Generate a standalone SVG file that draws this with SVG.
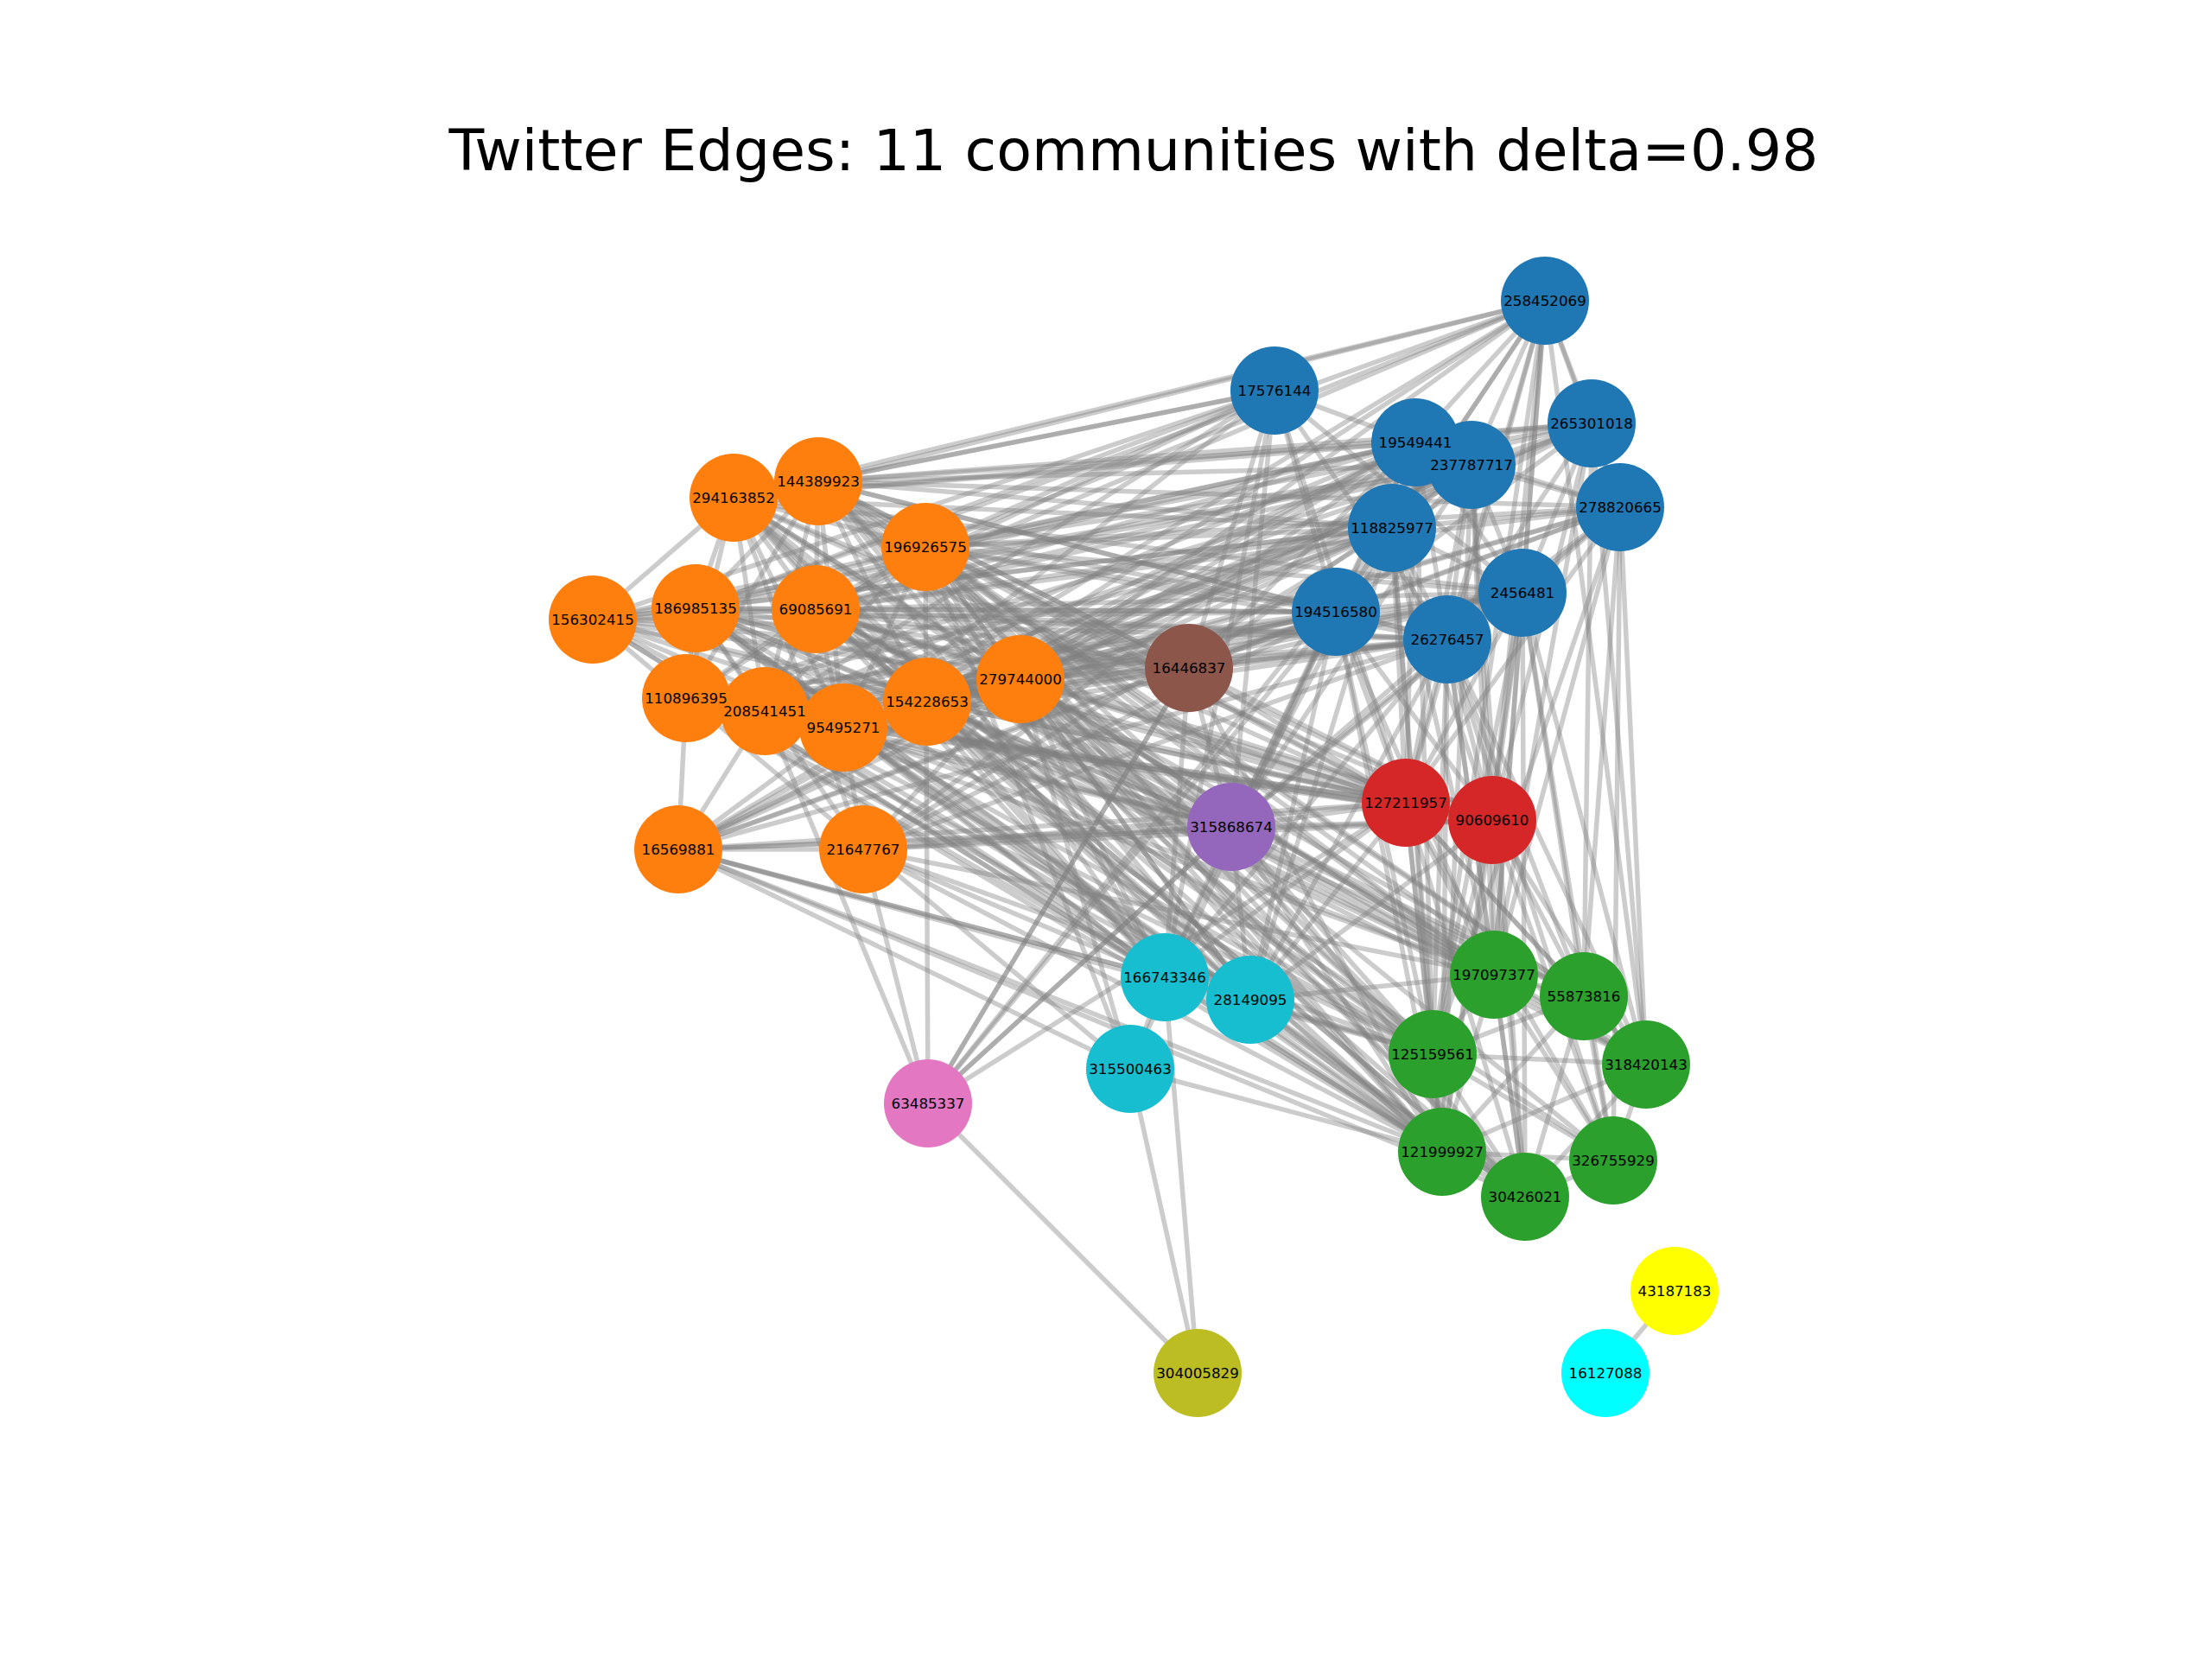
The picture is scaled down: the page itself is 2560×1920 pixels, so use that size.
<svg xmlns="http://www.w3.org/2000/svg" width="2560" height="1920" viewBox="0 0 2560 1920">
<style>
.e line{stroke:#808080;stroke-opacity:0.4;stroke-width:5.5;stroke-linecap:butt}
.n circle{stroke:none}
.lbl text{font-family:"DejaVu Sans","Liberation Sans",sans-serif;font-size:16.7px;text-anchor:middle;fill:#000}
.B{fill:#1f77b4}.O{fill:#ff7f0e}.G{fill:#2ca02c}.R{fill:#d62728}.P{fill:#9467bd}.Br{fill:#8c564b}.Pk{fill:#e377c2}.Ol{fill:#bcbd22}.C{fill:#17becf}.Y{fill:#ffff00}.A{fill:#00ffff}
</style>
<rect width="2560" height="1920" fill="#ffffff"/>
<text x="1312" y="197" font-family="DejaVu Sans, Liberation Sans, sans-serif" font-size="66.7" text-anchor="middle" fill="#000">Twitter Edges: 11 communities with delta=0.98</text>
<g id="edges" class="e">
<line x1="1788" y1="348" x2="1842" y2="490"/>
<line x1="1788" y1="348" x2="1638" y2="512"/>
<line x1="1788" y1="348" x2="1703" y2="538"/>
<line x1="1788" y1="348" x2="1875" y2="587"/>
<line x1="1788" y1="348" x2="1611" y2="611"/>
<line x1="1788" y1="348" x2="1762" y2="686"/>
<line x1="1788" y1="348" x2="1546" y2="708"/>
<line x1="1788" y1="348" x2="1675" y2="740"/>
<line x1="1475" y1="452" x2="1638" y2="512"/>
<line x1="1475" y1="452" x2="1762" y2="686"/>
<line x1="1475" y1="452" x2="1675" y2="740"/>
<line x1="1475" y1="452" x2="1546" y2="708"/>
<line x1="1842" y1="490" x2="1638" y2="512"/>
<line x1="1842" y1="490" x2="1703" y2="538"/>
<line x1="1842" y1="490" x2="1875" y2="587"/>
<line x1="1842" y1="490" x2="1611" y2="611"/>
<line x1="1842" y1="490" x2="1762" y2="686"/>
<line x1="1842" y1="490" x2="1546" y2="708"/>
<line x1="1842" y1="490" x2="1675" y2="740"/>
<line x1="1638" y1="512" x2="1703" y2="538"/>
<line x1="1638" y1="512" x2="1875" y2="587"/>
<line x1="1638" y1="512" x2="1611" y2="611"/>
<line x1="1638" y1="512" x2="1762" y2="686"/>
<line x1="1638" y1="512" x2="1546" y2="708"/>
<line x1="1638" y1="512" x2="1675" y2="740"/>
<line x1="1703" y1="538" x2="1875" y2="587"/>
<line x1="1703" y1="538" x2="1611" y2="611"/>
<line x1="1703" y1="538" x2="1762" y2="686"/>
<line x1="1703" y1="538" x2="1546" y2="708"/>
<line x1="1703" y1="538" x2="1675" y2="740"/>
<line x1="1875" y1="587" x2="1611" y2="611"/>
<line x1="1875" y1="587" x2="1762" y2="686"/>
<line x1="1875" y1="587" x2="1546" y2="708"/>
<line x1="1875" y1="587" x2="1675" y2="740"/>
<line x1="1611" y1="611" x2="1762" y2="686"/>
<line x1="1611" y1="611" x2="1546" y2="708"/>
<line x1="1611" y1="611" x2="1675" y2="740"/>
<line x1="1762" y1="686" x2="1546" y2="708"/>
<line x1="1762" y1="686" x2="1675" y2="740"/>
<line x1="1546" y1="708" x2="1675" y2="740"/>
<line x1="1788" y1="348" x2="947" y2="557"/>
<line x1="1788" y1="348" x2="849" y2="576"/>
<line x1="1788" y1="348" x2="1071" y2="633"/>
<line x1="1788" y1="348" x2="805" y2="704"/>
<line x1="1788" y1="348" x2="944" y2="705"/>
<line x1="1788" y1="348" x2="976" y2="842"/>
<line x1="1788" y1="348" x2="1073" y2="812"/>
<line x1="1788" y1="348" x2="1181" y2="786"/>
<line x1="1788" y1="348" x2="1729" y2="1128"/>
<line x1="1788" y1="348" x2="1658" y2="1220"/>
<line x1="1788" y1="348" x2="1627" y2="929"/>
<line x1="1788" y1="348" x2="1727" y2="949"/>
<line x1="1788" y1="348" x2="1905" y2="1232"/>
<line x1="1475" y1="452" x2="947" y2="557"/>
<line x1="1475" y1="452" x2="849" y2="576"/>
<line x1="1475" y1="452" x2="1071" y2="633"/>
<line x1="1475" y1="452" x2="686" y2="717"/>
<line x1="1475" y1="452" x2="805" y2="704"/>
<line x1="1475" y1="452" x2="944" y2="705"/>
<line x1="1475" y1="452" x2="885" y2="823"/>
<line x1="1475" y1="452" x2="976" y2="842"/>
<line x1="1475" y1="452" x2="1425" y2="957"/>
<line x1="1475" y1="452" x2="1376" y2="773"/>
<line x1="1475" y1="452" x2="1627" y2="929"/>
<line x1="1475" y1="452" x2="1348" y2="1131"/>
<line x1="1842" y1="490" x2="947" y2="557"/>
<line x1="1842" y1="490" x2="849" y2="576"/>
<line x1="1842" y1="490" x2="1071" y2="633"/>
<line x1="1842" y1="490" x2="944" y2="705"/>
<line x1="1842" y1="490" x2="1181" y2="786"/>
<line x1="1842" y1="490" x2="1729" y2="1128"/>
<line x1="1842" y1="490" x2="1833" y2="1153"/>
<line x1="1842" y1="490" x2="1905" y2="1232"/>
<line x1="1842" y1="490" x2="1727" y2="949"/>
<line x1="1842" y1="490" x2="976" y2="842"/>
<line x1="1842" y1="490" x2="1073" y2="812"/>
<line x1="1638" y1="512" x2="947" y2="557"/>
<line x1="1638" y1="512" x2="849" y2="576"/>
<line x1="1638" y1="512" x2="1071" y2="633"/>
<line x1="1638" y1="512" x2="686" y2="717"/>
<line x1="1638" y1="512" x2="805" y2="704"/>
<line x1="1638" y1="512" x2="944" y2="705"/>
<line x1="1638" y1="512" x2="885" y2="823"/>
<line x1="1638" y1="512" x2="976" y2="842"/>
<line x1="1638" y1="512" x2="1073" y2="812"/>
<line x1="1638" y1="512" x2="1181" y2="786"/>
<line x1="1638" y1="512" x2="1376" y2="773"/>
<line x1="1638" y1="512" x2="1425" y2="957"/>
<line x1="1638" y1="512" x2="1627" y2="929"/>
<line x1="1638" y1="512" x2="1658" y2="1220"/>
<line x1="1638" y1="512" x2="785" y2="983"/>
<line x1="1638" y1="512" x2="999" y2="983"/>
<line x1="1703" y1="538" x2="947" y2="557"/>
<line x1="1703" y1="538" x2="1071" y2="633"/>
<line x1="1703" y1="538" x2="805" y2="704"/>
<line x1="1703" y1="538" x2="944" y2="705"/>
<line x1="1703" y1="538" x2="794" y2="808"/>
<line x1="1703" y1="538" x2="1073" y2="812"/>
<line x1="1703" y1="538" x2="1181" y2="786"/>
<line x1="1703" y1="538" x2="1376" y2="773"/>
<line x1="1703" y1="538" x2="1627" y2="929"/>
<line x1="1703" y1="538" x2="1727" y2="949"/>
<line x1="1703" y1="538" x2="1729" y2="1128"/>
<line x1="1703" y1="538" x2="1669" y2="1333"/>
<line x1="1703" y1="538" x2="1765" y2="1385"/>
<line x1="1703" y1="538" x2="1425" y2="957"/>
<line x1="1703" y1="538" x2="885" y2="823"/>
<line x1="1703" y1="538" x2="976" y2="842"/>
<line x1="1703" y1="538" x2="686" y2="717"/>
<line x1="1703" y1="538" x2="785" y2="983"/>
<line x1="1875" y1="587" x2="947" y2="557"/>
<line x1="1875" y1="587" x2="1071" y2="633"/>
<line x1="1875" y1="587" x2="944" y2="705"/>
<line x1="1875" y1="587" x2="1181" y2="786"/>
<line x1="1875" y1="587" x2="1376" y2="773"/>
<line x1="1875" y1="587" x2="1729" y2="1128"/>
<line x1="1875" y1="587" x2="1833" y2="1153"/>
<line x1="1875" y1="587" x2="1658" y2="1220"/>
<line x1="1875" y1="587" x2="1905" y2="1232"/>
<line x1="1875" y1="587" x2="1867" y2="1343"/>
<line x1="1875" y1="587" x2="1627" y2="929"/>
<line x1="1875" y1="587" x2="1425" y2="957"/>
<line x1="1875" y1="587" x2="1073" y2="812"/>
<line x1="1611" y1="611" x2="947" y2="557"/>
<line x1="1611" y1="611" x2="849" y2="576"/>
<line x1="1611" y1="611" x2="1071" y2="633"/>
<line x1="1611" y1="611" x2="686" y2="717"/>
<line x1="1611" y1="611" x2="805" y2="704"/>
<line x1="1611" y1="611" x2="944" y2="705"/>
<line x1="1611" y1="611" x2="794" y2="808"/>
<line x1="1611" y1="611" x2="885" y2="823"/>
<line x1="1611" y1="611" x2="976" y2="842"/>
<line x1="1611" y1="611" x2="1073" y2="812"/>
<line x1="1611" y1="611" x2="1181" y2="786"/>
<line x1="1611" y1="611" x2="785" y2="983"/>
<line x1="1611" y1="611" x2="999" y2="983"/>
<line x1="1611" y1="611" x2="1627" y2="929"/>
<line x1="1611" y1="611" x2="1727" y2="949"/>
<line x1="1611" y1="611" x2="1425" y2="957"/>
<line x1="1611" y1="611" x2="1729" y2="1128"/>
<line x1="1611" y1="611" x2="1658" y2="1220"/>
<line x1="1611" y1="611" x2="1669" y2="1333"/>
<line x1="1611" y1="611" x2="1447" y2="1157"/>
<line x1="1762" y1="686" x2="849" y2="576"/>
<line x1="1762" y1="686" x2="1071" y2="633"/>
<line x1="1762" y1="686" x2="944" y2="705"/>
<line x1="1762" y1="686" x2="1073" y2="812"/>
<line x1="1762" y1="686" x2="1376" y2="773"/>
<line x1="1762" y1="686" x2="1627" y2="929"/>
<line x1="1762" y1="686" x2="1727" y2="949"/>
<line x1="1762" y1="686" x2="1729" y2="1128"/>
<line x1="1762" y1="686" x2="1833" y2="1153"/>
<line x1="1762" y1="686" x2="1658" y2="1220"/>
<line x1="1762" y1="686" x2="1905" y2="1232"/>
<line x1="1762" y1="686" x2="1669" y2="1333"/>
<line x1="1762" y1="686" x2="1765" y2="1385"/>
<line x1="1762" y1="686" x2="1867" y2="1343"/>
<line x1="1762" y1="686" x2="1425" y2="957"/>
<line x1="1762" y1="686" x2="794" y2="808"/>
<line x1="1762" y1="686" x2="885" y2="823"/>
<line x1="1762" y1="686" x2="976" y2="842"/>
<line x1="1762" y1="686" x2="1181" y2="786"/>
<line x1="1546" y1="708" x2="947" y2="557"/>
<line x1="1546" y1="708" x2="849" y2="576"/>
<line x1="1546" y1="708" x2="1071" y2="633"/>
<line x1="1546" y1="708" x2="686" y2="717"/>
<line x1="1546" y1="708" x2="805" y2="704"/>
<line x1="1546" y1="708" x2="944" y2="705"/>
<line x1="1546" y1="708" x2="794" y2="808"/>
<line x1="1546" y1="708" x2="885" y2="823"/>
<line x1="1546" y1="708" x2="976" y2="842"/>
<line x1="1546" y1="708" x2="1073" y2="812"/>
<line x1="1546" y1="708" x2="1181" y2="786"/>
<line x1="1546" y1="708" x2="785" y2="983"/>
<line x1="1546" y1="708" x2="999" y2="983"/>
<line x1="1546" y1="708" x2="1376" y2="773"/>
<line x1="1546" y1="708" x2="1425" y2="957"/>
<line x1="1546" y1="708" x2="1627" y2="929"/>
<line x1="1546" y1="708" x2="1727" y2="949"/>
<line x1="1546" y1="708" x2="1729" y2="1128"/>
<line x1="1546" y1="708" x2="1658" y2="1220"/>
<line x1="1546" y1="708" x2="1669" y2="1333"/>
<line x1="1546" y1="708" x2="1348" y2="1131"/>
<line x1="1546" y1="708" x2="1447" y2="1157"/>
<line x1="1546" y1="708" x2="1308" y2="1237"/>
<line x1="1546" y1="708" x2="1074" y2="1277"/>
<line x1="1675" y1="740" x2="947" y2="557"/>
<line x1="1675" y1="740" x2="1071" y2="633"/>
<line x1="1675" y1="740" x2="805" y2="704"/>
<line x1="1675" y1="740" x2="944" y2="705"/>
<line x1="1675" y1="740" x2="885" y2="823"/>
<line x1="1675" y1="740" x2="976" y2="842"/>
<line x1="1675" y1="740" x2="1073" y2="812"/>
<line x1="1675" y1="740" x2="1181" y2="786"/>
<line x1="1675" y1="740" x2="785" y2="983"/>
<line x1="1675" y1="740" x2="999" y2="983"/>
<line x1="1675" y1="740" x2="794" y2="808"/>
<line x1="1675" y1="740" x2="686" y2="717"/>
<line x1="1675" y1="740" x2="1376" y2="773"/>
<line x1="1675" y1="740" x2="1627" y2="929"/>
<line x1="1675" y1="740" x2="1727" y2="949"/>
<line x1="1675" y1="740" x2="1729" y2="1128"/>
<line x1="1675" y1="740" x2="1833" y2="1153"/>
<line x1="1675" y1="740" x2="1658" y2="1220"/>
<line x1="1675" y1="740" x2="1905" y2="1232"/>
<line x1="1675" y1="740" x2="1669" y2="1333"/>
<line x1="1675" y1="740" x2="1765" y2="1385"/>
<line x1="1675" y1="740" x2="1867" y2="1343"/>
<line x1="1675" y1="740" x2="1425" y2="957"/>
<line x1="1675" y1="740" x2="1348" y2="1131"/>
<line x1="1675" y1="740" x2="1447" y2="1157"/>
<line x1="1376" y1="773" x2="947" y2="557"/>
<line x1="1376" y1="773" x2="1071" y2="633"/>
<line x1="1376" y1="773" x2="805" y2="704"/>
<line x1="1376" y1="773" x2="944" y2="705"/>
<line x1="1376" y1="773" x2="976" y2="842"/>
<line x1="1376" y1="773" x2="1073" y2="812"/>
<line x1="1376" y1="773" x2="1181" y2="786"/>
<line x1="1376" y1="773" x2="785" y2="983"/>
<line x1="1376" y1="773" x2="1425" y2="957"/>
<line x1="1376" y1="773" x2="1627" y2="929"/>
<line x1="1376" y1="773" x2="1669" y2="1333"/>
<line x1="1376" y1="773" x2="1348" y2="1131"/>
<line x1="1376" y1="773" x2="1074" y2="1277"/>
<line x1="1425" y1="957" x2="947" y2="557"/>
<line x1="1425" y1="957" x2="849" y2="576"/>
<line x1="1425" y1="957" x2="1071" y2="633"/>
<line x1="1425" y1="957" x2="805" y2="704"/>
<line x1="1425" y1="957" x2="944" y2="705"/>
<line x1="1425" y1="957" x2="794" y2="808"/>
<line x1="1425" y1="957" x2="885" y2="823"/>
<line x1="1425" y1="957" x2="976" y2="842"/>
<line x1="1425" y1="957" x2="1073" y2="812"/>
<line x1="1425" y1="957" x2="1181" y2="786"/>
<line x1="1425" y1="957" x2="785" y2="983"/>
<line x1="1425" y1="957" x2="999" y2="983"/>
<line x1="1425" y1="957" x2="1627" y2="929"/>
<line x1="1425" y1="957" x2="1727" y2="949"/>
<line x1="1425" y1="957" x2="1729" y2="1128"/>
<line x1="1425" y1="957" x2="1833" y2="1153"/>
<line x1="1425" y1="957" x2="1658" y2="1220"/>
<line x1="1425" y1="957" x2="1669" y2="1333"/>
<line x1="1425" y1="957" x2="1765" y2="1385"/>
<line x1="1425" y1="957" x2="1348" y2="1131"/>
<line x1="1425" y1="957" x2="1447" y2="1157"/>
<line x1="1425" y1="957" x2="1074" y2="1277"/>
<line x1="1627" y1="929" x2="1727" y2="949"/>
<line x1="1627" y1="929" x2="947" y2="557"/>
<line x1="1627" y1="929" x2="849" y2="576"/>
<line x1="1627" y1="929" x2="1071" y2="633"/>
<line x1="1627" y1="929" x2="805" y2="704"/>
<line x1="1627" y1="929" x2="944" y2="705"/>
<line x1="1627" y1="929" x2="885" y2="823"/>
<line x1="1627" y1="929" x2="976" y2="842"/>
<line x1="1627" y1="929" x2="1073" y2="812"/>
<line x1="1627" y1="929" x2="1181" y2="786"/>
<line x1="1627" y1="929" x2="785" y2="983"/>
<line x1="1627" y1="929" x2="999" y2="983"/>
<line x1="1627" y1="929" x2="794" y2="808"/>
<line x1="1627" y1="929" x2="1729" y2="1128"/>
<line x1="1627" y1="929" x2="1833" y2="1153"/>
<line x1="1627" y1="929" x2="1658" y2="1220"/>
<line x1="1627" y1="929" x2="1905" y2="1232"/>
<line x1="1627" y1="929" x2="1669" y2="1333"/>
<line x1="1627" y1="929" x2="1765" y2="1385"/>
<line x1="1627" y1="929" x2="1867" y2="1343"/>
<line x1="1627" y1="929" x2="1348" y2="1131"/>
<line x1="1627" y1="929" x2="1447" y2="1157"/>
<line x1="1627" y1="929" x2="1074" y2="1277"/>
<line x1="1727" y1="949" x2="947" y2="557"/>
<line x1="1727" y1="949" x2="849" y2="576"/>
<line x1="1727" y1="949" x2="1071" y2="633"/>
<line x1="1727" y1="949" x2="805" y2="704"/>
<line x1="1727" y1="949" x2="944" y2="705"/>
<line x1="1727" y1="949" x2="976" y2="842"/>
<line x1="1727" y1="949" x2="1073" y2="812"/>
<line x1="1727" y1="949" x2="1181" y2="786"/>
<line x1="1727" y1="949" x2="785" y2="983"/>
<line x1="1727" y1="949" x2="999" y2="983"/>
<line x1="1727" y1="949" x2="794" y2="808"/>
<line x1="1727" y1="949" x2="885" y2="823"/>
<line x1="1727" y1="949" x2="1729" y2="1128"/>
<line x1="1727" y1="949" x2="1833" y2="1153"/>
<line x1="1727" y1="949" x2="1658" y2="1220"/>
<line x1="1727" y1="949" x2="1905" y2="1232"/>
<line x1="1727" y1="949" x2="1669" y2="1333"/>
<line x1="1727" y1="949" x2="1765" y2="1385"/>
<line x1="1727" y1="949" x2="1867" y2="1343"/>
<line x1="1727" y1="949" x2="1447" y2="1157"/>
<line x1="1729" y1="1128" x2="1833" y2="1153"/>
<line x1="1729" y1="1128" x2="1658" y2="1220"/>
<line x1="1729" y1="1128" x2="1905" y2="1232"/>
<line x1="1729" y1="1128" x2="1669" y2="1333"/>
<line x1="1729" y1="1128" x2="1765" y2="1385"/>
<line x1="1729" y1="1128" x2="1867" y2="1343"/>
<line x1="1833" y1="1153" x2="1658" y2="1220"/>
<line x1="1833" y1="1153" x2="1905" y2="1232"/>
<line x1="1833" y1="1153" x2="1669" y2="1333"/>
<line x1="1833" y1="1153" x2="1765" y2="1385"/>
<line x1="1833" y1="1153" x2="1867" y2="1343"/>
<line x1="1658" y1="1220" x2="1905" y2="1232"/>
<line x1="1658" y1="1220" x2="1669" y2="1333"/>
<line x1="1658" y1="1220" x2="1765" y2="1385"/>
<line x1="1658" y1="1220" x2="1867" y2="1343"/>
<line x1="1905" y1="1232" x2="1669" y2="1333"/>
<line x1="1905" y1="1232" x2="1765" y2="1385"/>
<line x1="1905" y1="1232" x2="1867" y2="1343"/>
<line x1="1669" y1="1333" x2="1765" y2="1385"/>
<line x1="1669" y1="1333" x2="1867" y2="1343"/>
<line x1="1765" y1="1385" x2="1867" y2="1343"/>
<line x1="1669" y1="1333" x2="947" y2="557"/>
<line x1="1669" y1="1333" x2="849" y2="576"/>
<line x1="1669" y1="1333" x2="1071" y2="633"/>
<line x1="1669" y1="1333" x2="805" y2="704"/>
<line x1="1669" y1="1333" x2="944" y2="705"/>
<line x1="1669" y1="1333" x2="794" y2="808"/>
<line x1="1669" y1="1333" x2="885" y2="823"/>
<line x1="1669" y1="1333" x2="976" y2="842"/>
<line x1="1669" y1="1333" x2="1073" y2="812"/>
<line x1="1669" y1="1333" x2="1181" y2="786"/>
<line x1="1669" y1="1333" x2="785" y2="983"/>
<line x1="1669" y1="1333" x2="999" y2="983"/>
<line x1="1669" y1="1333" x2="686" y2="717"/>
<line x1="1669" y1="1333" x2="1348" y2="1131"/>
<line x1="1669" y1="1333" x2="1447" y2="1157"/>
<line x1="1669" y1="1333" x2="1308" y2="1237"/>
<line x1="1658" y1="1220" x2="1071" y2="633"/>
<line x1="1658" y1="1220" x2="944" y2="705"/>
<line x1="1658" y1="1220" x2="976" y2="842"/>
<line x1="1658" y1="1220" x2="1073" y2="812"/>
<line x1="1658" y1="1220" x2="1181" y2="786"/>
<line x1="1658" y1="1220" x2="785" y2="983"/>
<line x1="1658" y1="1220" x2="999" y2="983"/>
<line x1="1658" y1="1220" x2="947" y2="557"/>
<line x1="1658" y1="1220" x2="849" y2="576"/>
<line x1="1658" y1="1220" x2="805" y2="704"/>
<line x1="1658" y1="1220" x2="794" y2="808"/>
<line x1="1658" y1="1220" x2="885" y2="823"/>
<line x1="1658" y1="1220" x2="1348" y2="1131"/>
<line x1="1658" y1="1220" x2="1447" y2="1157"/>
<line x1="1729" y1="1128" x2="1071" y2="633"/>
<line x1="1729" y1="1128" x2="944" y2="705"/>
<line x1="1729" y1="1128" x2="1073" y2="812"/>
<line x1="1729" y1="1128" x2="1181" y2="786"/>
<line x1="1729" y1="1128" x2="947" y2="557"/>
<line x1="1729" y1="1128" x2="849" y2="576"/>
<line x1="1729" y1="1128" x2="805" y2="704"/>
<line x1="1729" y1="1128" x2="885" y2="823"/>
<line x1="1729" y1="1128" x2="976" y2="842"/>
<line x1="1729" y1="1128" x2="999" y2="983"/>
<line x1="1729" y1="1128" x2="1447" y2="1157"/>
<line x1="1765" y1="1385" x2="976" y2="842"/>
<line x1="1765" y1="1385" x2="1073" y2="812"/>
<line x1="1765" y1="1385" x2="1447" y2="1157"/>
<line x1="1765" y1="1385" x2="947" y2="557"/>
<line x1="1765" y1="1385" x2="849" y2="576"/>
<line x1="1765" y1="1385" x2="805" y2="704"/>
<line x1="1765" y1="1385" x2="944" y2="705"/>
<line x1="1765" y1="1385" x2="1071" y2="633"/>
<line x1="1765" y1="1385" x2="1181" y2="786"/>
<line x1="1765" y1="1385" x2="785" y2="983"/>
<line x1="1833" y1="1153" x2="947" y2="557"/>
<line x1="1833" y1="1153" x2="944" y2="705"/>
<line x1="1833" y1="1153" x2="1073" y2="812"/>
<line x1="1833" y1="1153" x2="1181" y2="786"/>
<line x1="1833" y1="1153" x2="1071" y2="633"/>
<line x1="1905" y1="1232" x2="944" y2="705"/>
<line x1="1905" y1="1232" x2="1073" y2="812"/>
<line x1="1905" y1="1232" x2="1181" y2="786"/>
<line x1="1905" y1="1232" x2="1071" y2="633"/>
<line x1="1867" y1="1343" x2="1073" y2="812"/>
<line x1="1867" y1="1343" x2="1181" y2="786"/>
<line x1="1348" y1="1131" x2="1447" y2="1157"/>
<line x1="1348" y1="1131" x2="1308" y2="1237"/>
<line x1="1348" y1="1131" x2="1386" y2="1589"/>
<line x1="1348" y1="1131" x2="947" y2="557"/>
<line x1="1348" y1="1131" x2="849" y2="576"/>
<line x1="1348" y1="1131" x2="1071" y2="633"/>
<line x1="1348" y1="1131" x2="805" y2="704"/>
<line x1="1348" y1="1131" x2="944" y2="705"/>
<line x1="1348" y1="1131" x2="794" y2="808"/>
<line x1="1348" y1="1131" x2="885" y2="823"/>
<line x1="1348" y1="1131" x2="976" y2="842"/>
<line x1="1348" y1="1131" x2="1073" y2="812"/>
<line x1="1348" y1="1131" x2="1181" y2="786"/>
<line x1="1348" y1="1131" x2="785" y2="983"/>
<line x1="1348" y1="1131" x2="999" y2="983"/>
<line x1="1348" y1="1131" x2="686" y2="717"/>
<line x1="1447" y1="1157" x2="947" y2="557"/>
<line x1="1447" y1="1157" x2="849" y2="576"/>
<line x1="1447" y1="1157" x2="1071" y2="633"/>
<line x1="1447" y1="1157" x2="805" y2="704"/>
<line x1="1447" y1="1157" x2="944" y2="705"/>
<line x1="1447" y1="1157" x2="794" y2="808"/>
<line x1="1447" y1="1157" x2="885" y2="823"/>
<line x1="1447" y1="1157" x2="976" y2="842"/>
<line x1="1447" y1="1157" x2="1073" y2="812"/>
<line x1="1447" y1="1157" x2="1181" y2="786"/>
<line x1="1447" y1="1157" x2="785" y2="983"/>
<line x1="1308" y1="1237" x2="1386" y2="1589"/>
<line x1="1308" y1="1237" x2="785" y2="983"/>
<line x1="1308" y1="1237" x2="794" y2="808"/>
<line x1="1308" y1="1237" x2="1071" y2="633"/>
<line x1="1308" y1="1237" x2="1181" y2="786"/>
<line x1="1074" y1="1277" x2="1386" y2="1589"/>
<line x1="1074" y1="1277" x2="1071" y2="633"/>
<line x1="1074" y1="1277" x2="999" y2="983"/>
<line x1="1074" y1="1277" x2="885" y2="823"/>
<line x1="1074" y1="1277" x2="1425" y2="957"/>
<line x1="1074" y1="1277" x2="1376" y2="773"/>
<line x1="1074" y1="1277" x2="1611" y2="611"/>
<line x1="1938" y1="1494" x2="1858" y2="1589"/>
<line x1="947" y1="557" x2="849" y2="576"/>
<line x1="947" y1="557" x2="1071" y2="633"/>
<line x1="947" y1="557" x2="805" y2="704"/>
<line x1="947" y1="557" x2="944" y2="705"/>
<line x1="947" y1="557" x2="794" y2="808"/>
<line x1="947" y1="557" x2="885" y2="823"/>
<line x1="947" y1="557" x2="976" y2="842"/>
<line x1="947" y1="557" x2="1073" y2="812"/>
<line x1="947" y1="557" x2="1181" y2="786"/>
<line x1="849" y1="576" x2="1071" y2="633"/>
<line x1="849" y1="576" x2="686" y2="717"/>
<line x1="849" y1="576" x2="805" y2="704"/>
<line x1="849" y1="576" x2="944" y2="705"/>
<line x1="849" y1="576" x2="794" y2="808"/>
<line x1="849" y1="576" x2="885" y2="823"/>
<line x1="849" y1="576" x2="976" y2="842"/>
<line x1="849" y1="576" x2="1073" y2="812"/>
<line x1="849" y1="576" x2="1181" y2="786"/>
<line x1="1071" y1="633" x2="805" y2="704"/>
<line x1="1071" y1="633" x2="944" y2="705"/>
<line x1="1071" y1="633" x2="794" y2="808"/>
<line x1="1071" y1="633" x2="885" y2="823"/>
<line x1="1071" y1="633" x2="976" y2="842"/>
<line x1="1071" y1="633" x2="1181" y2="786"/>
<line x1="686" y1="717" x2="805" y2="704"/>
<line x1="686" y1="717" x2="944" y2="705"/>
<line x1="686" y1="717" x2="794" y2="808"/>
<line x1="686" y1="717" x2="885" y2="823"/>
<line x1="686" y1="717" x2="976" y2="842"/>
<line x1="686" y1="717" x2="1073" y2="812"/>
<line x1="686" y1="717" x2="1181" y2="786"/>
<line x1="686" y1="717" x2="1376" y2="773"/>
<line x1="686" y1="717" x2="1425" y2="957"/>
<line x1="686" y1="717" x2="1627" y2="929"/>
<line x1="805" y1="704" x2="944" y2="705"/>
<line x1="805" y1="704" x2="794" y2="808"/>
<line x1="805" y1="704" x2="885" y2="823"/>
<line x1="805" y1="704" x2="976" y2="842"/>
<line x1="805" y1="704" x2="1073" y2="812"/>
<line x1="805" y1="704" x2="1181" y2="786"/>
<line x1="944" y1="705" x2="794" y2="808"/>
<line x1="944" y1="705" x2="885" y2="823"/>
<line x1="944" y1="705" x2="976" y2="842"/>
<line x1="944" y1="705" x2="1073" y2="812"/>
<line x1="944" y1="705" x2="1181" y2="786"/>
<line x1="794" y1="808" x2="885" y2="823"/>
<line x1="794" y1="808" x2="976" y2="842"/>
<line x1="794" y1="808" x2="1073" y2="812"/>
<line x1="794" y1="808" x2="785" y2="983"/>
<line x1="794" y1="808" x2="1181" y2="786"/>
<line x1="885" y1="823" x2="976" y2="842"/>
<line x1="885" y1="823" x2="1073" y2="812"/>
<line x1="885" y1="823" x2="1181" y2="786"/>
<line x1="885" y1="823" x2="785" y2="983"/>
<line x1="976" y1="842" x2="1073" y2="812"/>
<line x1="976" y1="842" x2="1181" y2="786"/>
<line x1="976" y1="842" x2="999" y2="983"/>
<line x1="1073" y1="812" x2="1181" y2="786"/>
<line x1="785" y1="983" x2="999" y2="983"/>
<line x1="999" y1="983" x2="805" y2="704"/>
<line x1="999" y1="983" x2="849" y2="576"/>
<line x1="999" y1="983" x2="1181" y2="786"/>
<line x1="785" y1="983" x2="1181" y2="786"/>
<line x1="785" y1="983" x2="1073" y2="812"/>
<line x1="785" y1="983" x2="976" y2="842"/>
</g>
<g id="nodes">
<g id="n258452069" class="n"><circle class="B" cx="1788" cy="348" r="51"/></g>
<g id="n17576144" class="n"><circle class="B" cx="1475" cy="452" r="51"/></g>
<g id="n265301018" class="n"><circle class="B" cx="1842" cy="490" r="51"/></g>
<g id="n19549441" class="n"><circle class="B" cx="1638" cy="512" r="51"/></g>
<g id="n237787717" class="n"><circle class="B" cx="1703" cy="538" r="51"/></g>
<g id="n278820665" class="n"><circle class="B" cx="1875" cy="587" r="51"/></g>
<g id="n118825977" class="n"><circle class="B" cx="1611" cy="611" r="51"/></g>
<g id="n2456481" class="n"><circle class="B" cx="1762" cy="686" r="51"/></g>
<g id="n194516580" class="n"><circle class="B" cx="1546" cy="708" r="51"/></g>
<g id="n26276457" class="n"><circle class="B" cx="1675" cy="740" r="51"/></g>
<g id="n16446837" class="n"><circle class="Br" cx="1376" cy="773" r="51"/></g>
<g id="n144389923" class="n"><circle class="O" cx="947" cy="557" r="51"/></g>
<g id="n294163852" class="n"><circle class="O" cx="849" cy="576" r="51"/></g>
<g id="n196926575" class="n"><circle class="O" cx="1071" cy="633" r="51"/></g>
<g id="n156302415" class="n"><circle class="O" cx="686" cy="717" r="51"/></g>
<g id="n186985135" class="n"><circle class="O" cx="805" cy="704" r="51"/></g>
<g id="n69085691" class="n"><circle class="O" cx="944" cy="705" r="51"/></g>
<g id="n110896395" class="n"><circle class="O" cx="794" cy="808" r="51"/></g>
<g id="n208541451" class="n"><circle class="O" cx="885" cy="823" r="51"/></g>
<g id="n95495271" class="n"><circle class="O" cx="976" cy="842" r="51"/></g>
<g id="n154228653" class="n"><circle class="O" cx="1073" cy="812" r="51"/></g>
<g id="n279744000" class="n"><circle class="O" cx="1181" cy="786" r="51"/></g>
<g id="n16569881" class="n"><circle class="O" cx="785" cy="983" r="51"/></g>
<g id="n21647767" class="n"><circle class="O" cx="999" cy="983" r="51"/></g>
<g id="n315868674" class="n"><circle class="P" cx="1425" cy="957" r="51"/></g>
<g id="n127211957" class="n"><circle class="R" cx="1627" cy="929" r="51"/></g>
<g id="n90609610" class="n"><circle class="R" cx="1727" cy="949" r="51"/></g>
<g id="n166743346" class="n"><circle class="C" cx="1348" cy="1131" r="51"/></g>
<g id="n28149095" class="n"><circle class="C" cx="1447" cy="1157" r="51"/></g>
<g id="n315500463" class="n"><circle class="C" cx="1308" cy="1237" r="51"/></g>
<g id="n63485337" class="n"><circle class="Pk" cx="1074" cy="1277" r="51"/></g>
<g id="n197097377" class="n"><circle class="G" cx="1729" cy="1128" r="51"/></g>
<g id="n55873816" class="n"><circle class="G" cx="1833" cy="1153" r="51"/></g>
<g id="n125159561" class="n"><circle class="G" cx="1658" cy="1220" r="51"/></g>
<g id="n318420143" class="n"><circle class="G" cx="1905" cy="1232" r="51"/></g>
<g id="n121999927" class="n"><circle class="G" cx="1669" cy="1333" r="51"/></g>
<g id="n30426021" class="n"><circle class="G" cx="1765" cy="1385" r="51"/></g>
<g id="n326755929" class="n"><circle class="G" cx="1867" cy="1343" r="51"/></g>
<g id="n304005829" class="n"><circle class="Ol" cx="1386" cy="1589" r="51"/></g>
<g id="n43187183" class="n"><circle class="Y" cx="1938" cy="1494" r="51"/></g>
<g id="n16127088" class="n"><circle class="A" cx="1858" cy="1589" r="51"/></g>
</g>
<g id="labels" class="lbl">
<text x="1788" y="354">258452069</text>
<text x="1475" y="458">17576144</text>
<text x="1842" y="496">265301018</text>
<text x="1638" y="518">19549441</text>
<text x="1703" y="544">237787717</text>
<text x="1875" y="593">278820665</text>
<text x="1611" y="617">118825977</text>
<text x="1762" y="692">2456481</text>
<text x="1546" y="714">194516580</text>
<text x="1675" y="746">26276457</text>
<text x="1376" y="779">16446837</text>
<text x="947" y="563">144389923</text>
<text x="849" y="582">294163852</text>
<text x="1071" y="639">196926575</text>
<text x="686" y="723">156302415</text>
<text x="805" y="710">186985135</text>
<text x="944" y="711">69085691</text>
<text x="794" y="814">110896395</text>
<text x="885" y="829">208541451</text>
<text x="976" y="848">95495271</text>
<text x="1073" y="818">154228653</text>
<text x="1181" y="792">279744000</text>
<text x="785" y="989">16569881</text>
<text x="999" y="989">21647767</text>
<text x="1425" y="963">315868674</text>
<text x="1627" y="935">127211957</text>
<text x="1727" y="955">90609610</text>
<text x="1348" y="1137">166743346</text>
<text x="1447" y="1163">28149095</text>
<text x="1308" y="1243">315500463</text>
<text x="1074" y="1283">63485337</text>
<text x="1729" y="1134">197097377</text>
<text x="1833" y="1159">55873816</text>
<text x="1658" y="1226">125159561</text>
<text x="1905" y="1238">318420143</text>
<text x="1669" y="1339">121999927</text>
<text x="1765" y="1391">30426021</text>
<text x="1867" y="1349">326755929</text>
<text x="1386" y="1595">304005829</text>
<text x="1938" y="1500">43187183</text>
<text x="1858" y="1595">16127088</text>
</g>
</svg>
